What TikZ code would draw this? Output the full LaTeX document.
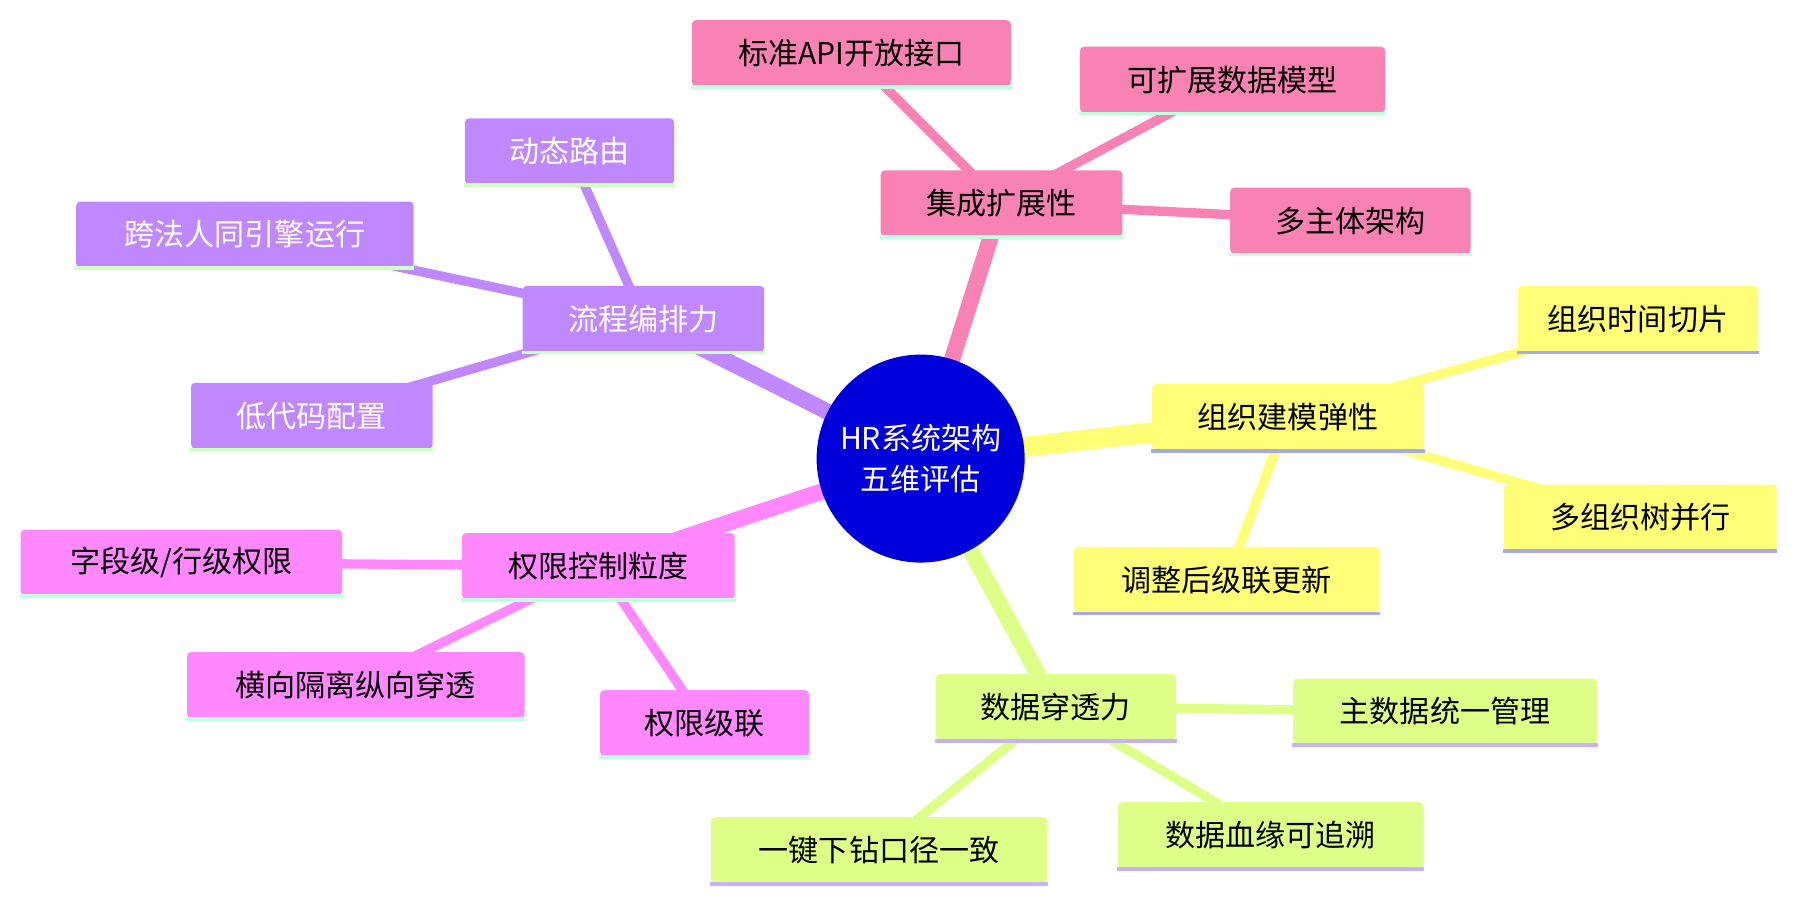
\documentclass[tikz,border=0pt]{standalone}
\usepackage{fontspec}
\setmainfont{Noto Sans CJK SC}
\usetikzlibrary{backgrounds}
\definecolor{cpink}{HTML}{F982B5}
\definecolor{cyel}{HTML}{FFFF77}
\definecolor{cgrn}{HTML}{DDFF88}
\definecolor{cmag}{HTML}{FF88FF}
\definecolor{cpur}{HTML}{C088FF}
\definecolor{umint}{HTML}{C0FFE0}
\definecolor{ulav}{HTML}{A8A8F0}
\definecolor{uvio}{HTML}{C8B0FF}
\definecolor{ugrn}{HTML}{D0FFC0}
\tikzset{
 box/.style={rounded corners=1pt,minimum height=0.57cm,inner sep=0pt,font=\fontsize{7.4pt}{9pt}\selectfont},
 ul/.style={line width=0.9pt},
 mainedge/.style={line width=4pt},
 subedge/.style={line width=2.3pt},
}
\begin{document}
\begin{tikzpicture}[x=0.01cm,y=-0.01cm]
\useasboundingbox (0,0) rectangle (1560,780);
\node[circle,fill=blue!86!black,minimum size=1.8cm,text=white,align=center,inner sep=0pt,font=\fontsize{7.4pt}{10pt}\selectfont] (root) at (797,397) {HR系统架构\\五维评估};
% pink
\node[box,fill=cpink,minimum width=2.09cm] (a) at (867,176) {集成扩展性};
\node[box,fill=cpink,minimum width=2.76cm] (a1) at (737,46) {标准API开放接口};
\node[box,fill=cpink,minimum width=2.64cm] (a2) at (1067,69) {可扩展数据模型};
\node[box,fill=cpink,minimum width=2.08cm] (a3) at (1169,191) {多主体架构};
% yellow
\node[box,fill=cyel,minimum width=2.35cm] (b) at (1115,361) {组织建模弹性};
\node[box,fill=cyel,minimum width=2.08cm] (b1) at (1418,276) {组织时间切片};
\node[box,fill=cyel,minimum width=2.36cm] (b2) at (1420,448) {多组织树并行};
\node[box,fill=cyel,minimum width=2.64cm] (b3) at (1062,502) {调整后级联更新};
% green
\node[box,fill=cgrn,minimum width=2.08cm] (c) at (914,612) {数据穿透力};
\node[box,fill=cgrn,minimum width=2.63cm] (c1) at (1251,616) {主数据统一管理};
\node[box,fill=cgrn,minimum width=2.64cm] (c2) at (1100,723) {数据血缘可追溯};
\node[box,fill=cgrn,minimum width=2.91cm] (c3) at (761,736) {一键下钻口径一致};
% magenta
\node[box,fill=cmag,minimum width=2.36cm] (d) at (518,490) {权限控制粒度};
\node[box,fill=cmag,minimum width=2.78cm] (d1) at (157,487) {字段级/行级权限};
\node[box,fill=cmag,minimum width=2.92cm] (d2) at (308,593) {横向隔离纵向穿透};
\node[box,fill=cmag,minimum width=1.81cm] (d3) at (610,626) {权限级联};
% purple
\node[box,fill=cpur,text=white,minimum width=2.09cm] (e) at (557,276) {流程编排力};
\node[box,fill=cpur,text=white,minimum width=1.81cm] (e1) at (493,131) {动态路由};
\node[box,fill=cpur,text=white,minimum width=2.92cm] (e2) at (212,203) {跨法人同引擎运行};
\node[box,fill=cpur,text=white,minimum width=2.09cm] (e3) at (270,360) {低代码配置};
% underlines
\foreach \n in {a,a1,a2,a3}{\draw[ul,umint] (\n.south west)--(\n.south east);}
\foreach \n in {b,b1,b2,b3}{\draw[ul,ulav] (\n.south west)--(\n.south east);}
\foreach \n in {c,c1,c2,c3}{\draw[ul,uvio] (\n.south west)--(\n.south east);}
\foreach \n in {d,d1,d2,d3}{\draw[ul,umint] (\n.south west)--(\n.south east);}
\foreach \n in {e,e1,e2,e3}{\draw[ul,ugrn] (\n.south west)--(\n.south east);}
\begin{scope}[on background layer]
\draw[mainedge,cpink] (root.center)--(a.center);
\draw[mainedge,cyel,line width=5pt] (root.center)--(b.center);
\draw[mainedge,cgrn] (root.center)--(c.center);
\draw[mainedge,cmag] (root.center)--(d.center);
\draw[mainedge,cpur] (root.center)--(e.center);
\foreach \n in {a1,a2,a3}{\draw[subedge,cpink] (a.center)--(\n.center);}
\foreach \n in {b1,b2,b3}{\draw[subedge,cyel] (b.center)--(\n.center);}
\foreach \n in {c1,c2,c3}{\draw[subedge,cgrn] (c.center)--(\n.center);}
\foreach \n in {d1,d2,d3}{\draw[subedge,cmag] (d.center)--(\n.center);}
\foreach \n in {e1,e2,e3}{\draw[subedge,cpur] (e.center)--(\n.center);}
\end{scope}
\end{tikzpicture}
\end{document}
